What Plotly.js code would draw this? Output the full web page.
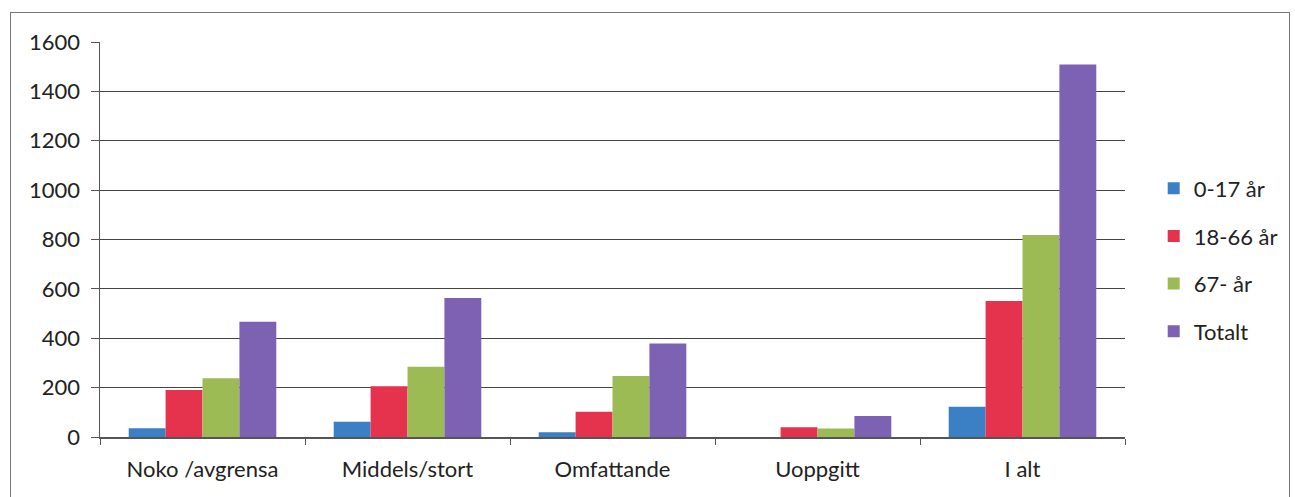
<!DOCTYPE html>
<html><head><meta charset="utf-8">
<script src="https://cdn.plot.ly/plotly-3.0.1.min.js"></script>
<style>
html,body{margin:0;padding:0;background:#fff;}
#wrap{position:relative;width:1295px;height:497px;}
#chart{width:1295px;height:497px;}
#frame{position:absolute;left:10px;top:12px;width:1278px;height:490px;border:1.5px solid #777;pointer-events:none;}
</style></head>
<body><div id="wrap"><div id="chart"></div><div id="frame"></div></div>
<script>
const categories = ["Noko /avgrensa", "Middels/stort", "Omfattande", "Uoppgitt", "I alt"];
const seriesNames = ["0-17 år", "18-66 år", "67- år", "Totalt"];
const age0_17 = [35, 62, 19, 0, 123];
const age18_66 = [190, 206, 102, 40, 551];
const age67 = [238, 285, 247, 34, 818];
const totalt = [467, 563, 379, 85, 1509];
const yTicks = [0, 200, 400, 600, 800, 1000, 1200, 1400, 1600];
const colors = ["#3b7fc4", "#e6334d", "#9dbb54", "#7d62b4"];

const values = [age0_17, age18_66, age67, totalt];
const traces = values.map((v, i) => ({
  type: "bar", name: seriesNames[i], x: categories, y: v,
  legendgroup: "g" + i,
  marker: {color: colors[i], line: {width: 0}}
}));

const layout = {
  width: 1295, height: 497,
  margin: {l: 100, r: 167, t: 42, b: 60},
  paper_bgcolor: "#fff", plot_bgcolor: "#fff",
  barmode: "group", bargap: 0.28, bargroupgap: 0,
  font: {family: "Lato, Open Sans, sans-serif", size: 22, color: "#222"},
  xaxis: {
    showline: true, linecolor: "#555", linewidth: 1.5,
    ticks: "outside", tickson: "boundaries", ticklen: 6, tickcolor: "#555",
    ticklabelstandoff: 12,
    tickfont: {size: 22}, showgrid: false
  },
  yaxis: {
    range: [0, 1600], tickvals: yTicks, showline: true, linecolor: "#555", linewidth: 1.5,
    ticks: "outside", ticklen: 8, tickcolor: "#555", ticklabelstandoff: 6,
    showgrid: true, gridcolor: "#444", gridwidth: 1.2, zeroline: false,
    tickfont: {size: 22}
  },
  legend: {
    x: 1.028, xanchor: "left", y: 0.448, yanchor: "middle",
    font: {size: 22}, itemwidth: 30, tracegroupgap: 16,
    traceorder: "grouped"
  },
  showlegend: true
};
Plotly.newPlot("chart", traces, layout, {displayModeBar: false, staticPlot: true});
</script></body></html>
